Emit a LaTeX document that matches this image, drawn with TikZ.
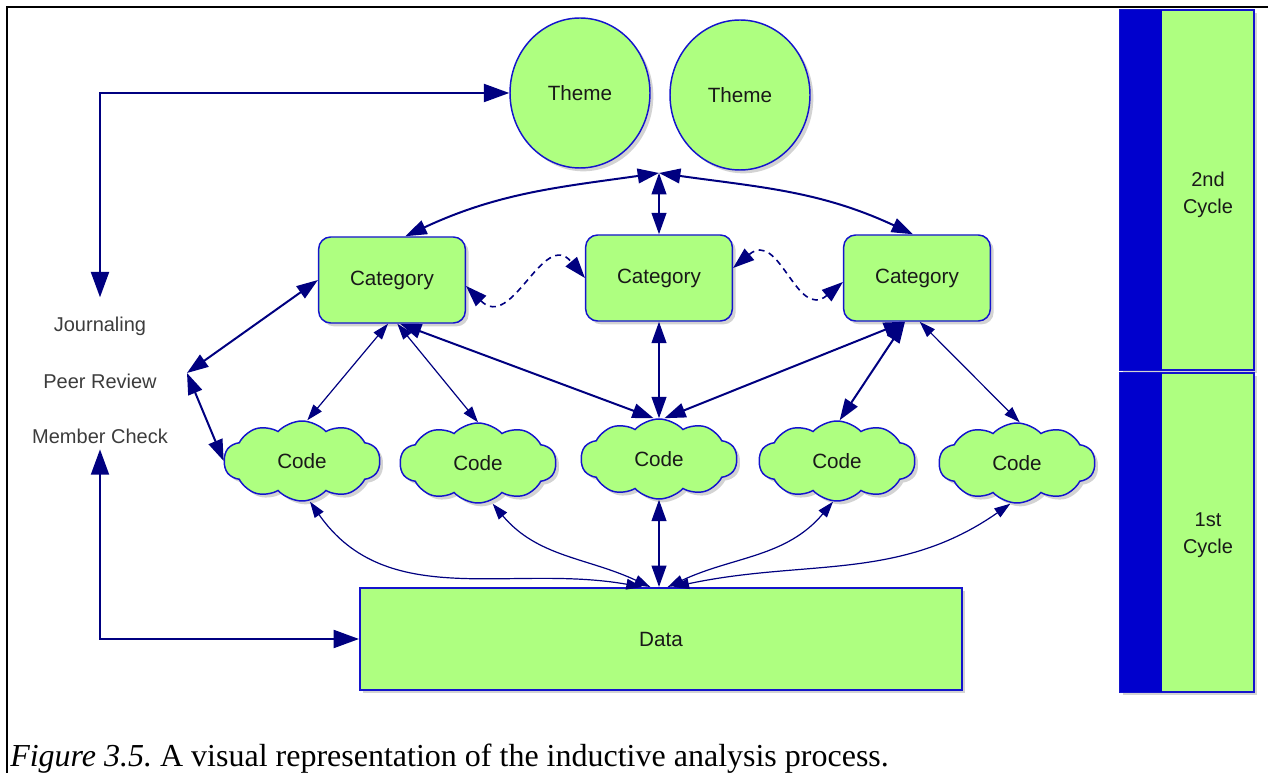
\documentclass[tikz,border=0pt]{standalone}
\usepackage{fontspec}
\setmainfont{Liberation Serif}
\setsansfont{Liberation Sans}
\usetikzlibrary{arrows.meta,shapes.geometric,shapes.symbols,shadows,calc}
\definecolor{fillg}{RGB}{174,255,128}
\definecolor{bordb}{RGB}{20,20,205}
\definecolor{edgec}{RGB}{0,0,128}
\definecolor{stripec}{RGB}{0,0,205}
\definecolor{txtc}{RGB}{25,25,25}
\definecolor{sidetxtc}{RGB}{60,60,60}
\frenchspacing
\begin{document}
\begin{tikzpicture}[x=0.75pt,y=-0.75pt,
  shapebase/.style={fill=fillg, draw=bordb, line width=1.1pt, text=txtc,
    font=\sffamily\fontsize{15.5}{18}\selectfont,
    drop shadow={shadow xshift=2.5pt,shadow yshift=-2.5pt,opacity=0.35}},
  themenode/.style={shapebase, ellipse, minimum width=105pt, minimum height=112.5pt, inner sep=0pt},
  catnode/.style={shapebase, rectangle, rounded corners=9pt, minimum width=110pt, minimum height=64.5pt},
  codenode/.style={shapebase, cloud, cloud puffs=10, cloud puff arc=95, aspect=2,
    minimum width=117pt, minimum height=60pt, inner sep=0pt},
  datanode/.style={shapebase, rectangle, minimum width=451.5pt, minimum height=76.5pt, line width=1.5pt},
  cyclebox/.style={shapebase, rectangle, minimum width=100.5pt},
  sidetext/.style={text=sidetxtc, font=\sffamily\fontsize{15}{18}\selectfont},
  cyctext/.style={text=txtc, font=\sffamily\fontsize{15}{20}\selectfont, align=center},
  link/.style={draw=edgec, line width=1.5pt, >={Triangle[length=16pt,width=11pt]}, <->},
  thinlink/.style={draw=edgec, line width=0.9pt, >={Triangle[length=12pt,width=8pt]}, <->},
  biglink/.style={draw=edgec, line width=1.5pt, >={Triangle[length=19pt,width=13.5pt]}, <->},
  dashlink/.style={link, dash pattern=on 4.5pt off 3.5pt, line width=1.2pt}
]
\useasboundingbox (0,0) rectangle (1268,773);
% frame
\draw[line width=1.5pt] (7,773) -- (7,7) -- (1268,7);

% themes
\node[themenode] (theme1) at (580,93) {Theme};
\node[themenode] (theme2) at (740,95) {Theme};

% categories
\node[catnode] (cat1) at (392,280) {Category};
\node[catnode] (cat2) at (659,278) {Category};
\node[catnode] (cat3) at (917,278) {Category};

% codes
\node[codenode] (code1) at (302,461) {Code};
\node[codenode] (code2) at (478,463) {Code};
\node[codenode] (code3) at (659,459) {Code};
\node[codenode] (code4) at (837,461) {Code};
\node[codenode] (code5) at (1017,463) {Code};

% data
\node[datanode] (data) at (661,639) {Data};

% side texts
\node[sidetext] (journ) at (100,326) {Journaling};
\node[sidetext] (peer) at (100,381) {Peer Review};
\node[sidetext] (member) at (100,436) {Member Check};

% cycle boxes
\node[cyclebox, minimum height=270pt] (cyc2) at (1187,190) {};
\fill[stripec] (cyc2.north west) rectangle ([xshift=32.25pt]cyc2.south west);
\draw[bordb, line width=1.1pt] (cyc2.north west) rectangle (cyc2.south east);
\node[cyctext] (cyc2t) at (1208,195) {2nd\\Cycle};
\node[cyclebox, minimum height=239.25pt] (cyc1) at (1187,532.5) {};
\fill[stripec] (cyc1.north west) rectangle ([xshift=32.25pt]cyc1.south west);
\draw[bordb, line width=1.1pt] (cyc1.north west) rectangle (cyc1.south east);
\node[cyctext] (cyc1t) at (1208,535) {1st\\Cycle};

% caption
\node[anchor=base west, inner sep=0pt, font=\fontsize{24}{28}\selectfont] (cap) at (10,766)
  {\textit{Figure 3.5.} A visual representation of the inductive analysis process.};

% coordinates
\coordinate (hub) at (659,173);
\coordinate (prp) at (187,373);

% side loop arrows
\draw[biglink] (theme1.west) -| ([yshift=11pt]journ.north);
\draw[biglink] ([yshift=-1pt]member.south) |- (data.west);

% peer review links
\draw[link] (prp) -- (cat1.west);
\draw[link] (prp) -- (code1.west);

% hub links
\draw[link] (hub) to[out=188,in=25] ([xshift=10pt]cat1.north);
\draw[link] (hub) to[out=-8,in=155] ([xshift=-3pt]cat3.north);
\draw[link] (hub) -- (cat2.north);

% dashed links between categories
\draw[dashlink] ([yshift=-4.5pt]cat1.east) to[out=-45,in=130,looseness=1.4] (cat2.west);
\draw[dashlink] ([yshift=7.5pt]cat2.east) to[out=40,in=220,looseness=1.4] ([yshift=-3pt]cat3.west);

% category to code
\draw[thinlink] ([xshift=-3pt]cat1.south) -- ([xshift=4pt]code1.north);
\draw[thinlink] ([xshift=4pt]cat1.south) -- (code2.north);
\draw[link] ([xshift=6pt]cat1.south) -- ([xshift=-4pt]code3.north);
\draw[link] (cat2.south) -- (code3.north);
\draw[link] ([xshift=-9pt]cat3.south) -- ([xshift=4pt]code3.north);
\draw[link] ([xshift=-9pt]cat3.south) -- ([xshift=2pt]code4.north);
\draw[thinlink] ([xshift=2pt]cat3.south) -- ([xshift=2pt]code5.north);

% code to data
\draw[thinlink] ([xshift=6pt]code1.south) to[out=-55,in=170] ([xshift=-14pt]data.north);
\draw[thinlink] ([xshift=11pt]code2.south) to[out=-50,in=155] ([xshift=-8pt]data.north);
\draw[link] (code3.south) -- ([xshift=-1.5pt]data.north);
\draw[thinlink] ([xshift=-3pt]code4.south) to[out=-130,in=25] ([xshift=5pt]data.north);
\draw[thinlink] ([xshift=-5pt]code5.south) to[out=-145,in=12] ([xshift=9pt]data.north);
\end{tikzpicture}
\end{document}
